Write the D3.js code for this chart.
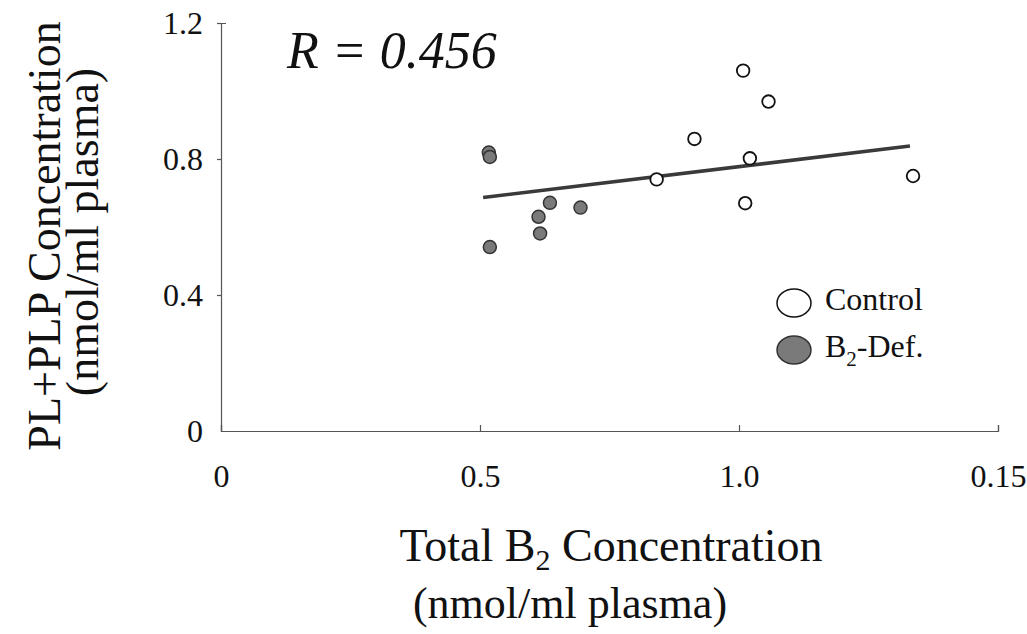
<!DOCTYPE html>
<html>
<head>
<meta charset="utf-8">
<script src="https://cdn.jsdelivr.net/npm/d3@7"></script>
<style>
  body { margin: 0; background: #fff; }
  text { font-family: "Liberation Serif", "Times New Roman", serif; fill: #111; }
</style>
</head>
<body>
<div id="chart"></div>
<script>
// Data
const controlX = [1.008, 1.057, 0.914, 1.021, 0.841, 1.012, 1.336];
const controlY = [1.060, 0.969, 0.859, 0.802, 0.740, 0.670, 0.750];
const defX = [0.517, 0.519, 0.519, 0.635, 0.613, 0.616, 0.694];
const defY = [0.819, 0.806, 0.541, 0.671, 0.630, 0.581, 0.657];
const fitX = [0.506, 1.330];
const fitY = [0.687, 0.838];
const xTicks = [0, 0.5, 1.0, 1.5];
const xTickLabels = ["0", "0.5", "1.0", "0.15"];
const yTicks = [0, 0.4, 0.8, 1.2];
const yTickLabels = ["0", "0.4", "0.8", "1.2"];

const width = 1027;
const height = 634;

const svg = d3.select("#chart")
    .append("svg")
    .attr("width", width)
    .attr("height", height);

// Scales
const x = d3.scaleLinear().domain([0, 1.5]).range([221, 998]);
const y = d3.scaleLinear().domain([0, 1.2]).range([431, 23]);

// Axes
const xAxis = svg.append("g")
    .attr("transform", `translate(0,${y(0)})`)
    .call(d3.axisBottom(x)
        .tickValues(xTicks)
        .tickFormat((d, i) => xTickLabels[i])
        .tickSizeInner(-6)
        .tickSizeOuter(-6)
        .tickPadding(33));

const yAxis = svg.append("g")
    .attr("transform", `translate(${x(0)},0)`)
    .call(d3.axisLeft(y)
        .tickValues(yTicks)
        .tickFormat((d, i) => yTickLabels[i])
        .tickSizeInner(4)
        .tickSizeOuter(-5)
        .tickPadding(14));

[xAxis, yAxis].forEach(a => {
    a.selectAll("path, line").attr("stroke", "#555").attr("stroke-width", 1.2);
    a.selectAll("text")
        .style("font-family", '"Liberation Serif", "Times New Roman", serif')
        .style("font-size", "32px")
        .attr("fill", "#111");
});
yAxis.select(".tick:first-of-type line").remove();

// Regression line
svg.append("line")
    .attr("x1", x(fitX[0])).attr("y1", y(fitY[0]))
    .attr("x2", x(fitX[1])).attr("y2", y(fitY[1]))
    .attr("stroke", "#3a3a3a")
    .attr("stroke-width", 3.5);

// Points
svg.selectAll("circle.def")
    .data(d3.zip(defX, defY))
    .enter()
    .append("circle")
    .attr("class", "def")
    .attr("cx", d => x(d[0]))
    .attr("cy", d => y(d[1]))
    .attr("r", 6.5)
    .attr("fill", "#7a7a7a")
    .attr("stroke", "#333")
    .attr("stroke-width", 1.5);

svg.selectAll("circle.ctrl")
    .data(d3.zip(controlX, controlY))
    .enter()
    .append("circle")
    .attr("class", "ctrl")
    .attr("cx", d => x(d[0]))
    .attr("cy", d => y(d[1]))
    .attr("r", 6.3)
    .attr("fill", "#fff")
    .attr("stroke", "#111")
    .attr("stroke-width", 1.8);

// R annotation
svg.append("text")
    .attr("x", 287)
    .attr("y", 68)
    .style("font-size", "52px")
    .style("font-style", "italic")
    .text("R = 0.456");

// Legend
const legend = svg.append("g");
legend.append("ellipse")
    .attr("cx", 794).attr("cy", 303).attr("rx", 17).attr("ry", 14)
    .attr("fill", "#fff").attr("stroke", "#111").attr("stroke-width", 1.5);
legend.append("text")
    .attr("x", 825).attr("y", 310)
    .style("font-size", "32px")
    .text("Control");
legend.append("ellipse")
    .attr("cx", 794).attr("cy", 350).attr("rx", 17).attr("ry", 14)
    .attr("fill", "#7a7a7a").attr("stroke", "#333").attr("stroke-width", 1.5);
const defLabel = legend.append("text")
    .attr("x", 825).attr("y", 357)
    .style("font-size", "32px");
defLabel.append("tspan").text("B");
defLabel.append("tspan").attr("dy", 9).style("font-size", "21px").text("2");
defLabel.append("tspan").attr("dy", -9).text("-Def.");

// Axis titles
const xTitle = svg.append("text")
    .attr("x", 611).attr("y", 561)
    .attr("text-anchor", "middle")
    .style("font-size", "46px");
xTitle.append("tspan").text("Total B");
xTitle.append("tspan").attr("dy", 9).style("font-size", "30px").text("2");
xTitle.append("tspan").attr("dy", -9).text(" Concentration");

svg.append("text")
    .attr("x", 570).attr("y", 618)
    .attr("text-anchor", "middle")
    .style("font-size", "44px")
    .text("(nmol/ml plasma)");

svg.append("text")
    .attr("transform", "translate(60,236) rotate(-90)")
    .attr("text-anchor", "middle")
    .style("font-size", "46px")
    .text("PL+PLP Concentration");

svg.append("text")
    .attr("transform", "translate(98,232) rotate(-90)")
    .attr("text-anchor", "middle")
    .style("font-size", "46px")
    .text("(nmol/ml plasma)");
</script>
</body>
</html>
